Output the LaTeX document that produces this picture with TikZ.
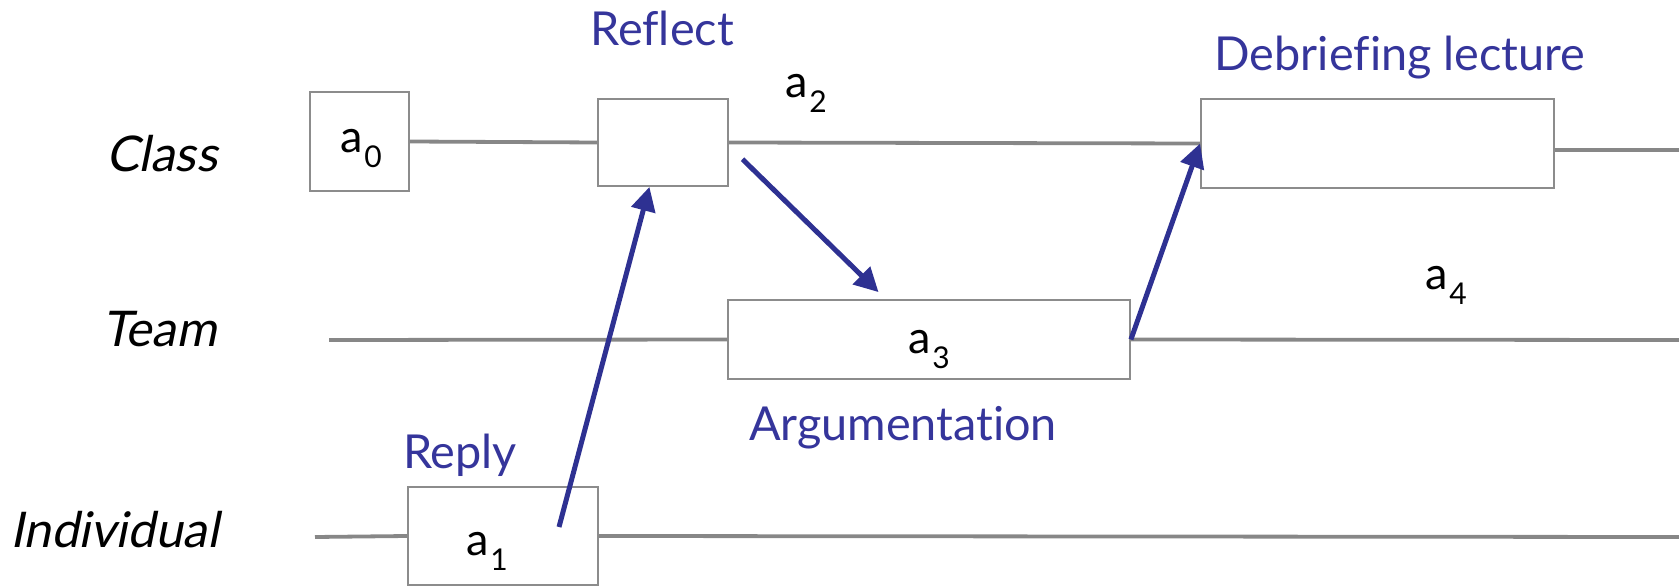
\documentclass[tikz,border=0pt]{standalone}
\usepackage{fontspec}
\setmainfont{Lato}[Ligatures=NoCommon]
\newfontfamily\slantfont[FakeSlant=0.2,Ligatures=NoCommon]{Lato}
\usepackage{xcolor}
\definecolor{boxgray}{HTML}{8C8C8C}
\definecolor{linegray}{HTML}{878787}
\definecolor{navy}{HTML}{2E3192}
\definecolor{labelblue}{HTML}{35359B}
\usetikzlibrary{arrows.meta}
\newcommand{\actlabel}[1]{a\kern0.8pt\raisebox{-7.5pt}{\fontsize{15}{15}\selectfont #1}}

\begin{document}
\begin{tikzpicture}[x=0.5pt,y=-0.5pt,
  actbox/.style={draw=boxgray,line width=0.9pt,fill=white,inner sep=0pt},
  lane/.style={font=\slantfont\fontsize{24.6}{27}\selectfont,anchor=base east,inner sep=0pt},
  phase/.style={font=\fontsize{23.4}{26}\selectfont,text=labelblue,anchor=base,inner sep=0pt},
  act/.style={font=\fontsize{22.5}{26}\selectfont,anchor=base west,inner sep=0pt},
  track/.style={linegray,line width=1.9pt},
  arr/.style={-{Triangle[length=12pt,width=12pt]},navy,line width=2.5pt}
]
  \useasboundingbox (0,0) rectangle (1679,587);

  \node[lane] (classlane) at (218,172) {Class};
  \node[lane] (teamlane) at (217,347) {Team};
  \node[lane] (indlane) at (219,547) {Individual};

  \node[actbox,minimum width=49.5pt,minimum height=49.5pt] (a0) at (359.5,141.5) {};
  \node[actbox,minimum width=65pt,minimum height=43.5pt] (reflect) at (663,142.5) {};
  \node[actbox,minimum width=176.5pt,minimum height=44.5pt] (debrief) at (1377.5,143.5) {};
  \node[actbox,minimum width=201pt,minimum height=39.5pt] (a3) at (929,339.5) {};
  \node[actbox,minimum width=95pt,minimum height=49pt] (a1) at (503,536) {};

  \node[act] (a0lbl) at (340,153) {\actlabel{0}};
  \node[act] (a1lbl) at (466,555) {\actlabel{1}};
  \node[act] (a2lbl) at (785,98) {\actlabel{2}};
  \node[act] (a3lbl) at (908,353) {\actlabel{3}};
  \node[act] (a4lbl) at (1425,290) {\actlabel{4}};

  \node[phase] (reflectlbl) at (662,46) {Reflect};
  \node[phase] (debrieflbl) at (1400,71) {Debriefing lecture};
  \node[phase] (arglbl) at (903,440) {Argumentation};
  \node[phase] (replylbl) at (460,468) {Reply};

  \coordinate (classend) at (1679,150);
  \coordinate (teamstart) at (329,340);
  \coordinate (teamend) at (1679,340);
  \coordinate (indstart) at (315,537);
  \coordinate (indend) at (1679,537);
  \coordinate (replyout) at (559,527);

  \draw[track] (a0.east) -- (reflect.west);
  \draw[track] (reflect.east) -- (debrief.west);
  \draw[track] (debrief.east |- classend) -- (classend);
  \draw[track] (teamstart) -- (a3.west);
  \draw[track] (a3.east) -- (teamend);
  \draw[track] (indstart) -- (a1.west);
  \draw[track] (a1.east) -- (indend);

  \draw[arr] (replyout) -- (reflect.253);
  \draw[arr,shorten <=9.5pt,shorten >=5pt] (reflect.-3.5) -- (a3.137);
  \draw[arr] (a3.east) -- (debrief.west);
\end{tikzpicture}
\end{document}
